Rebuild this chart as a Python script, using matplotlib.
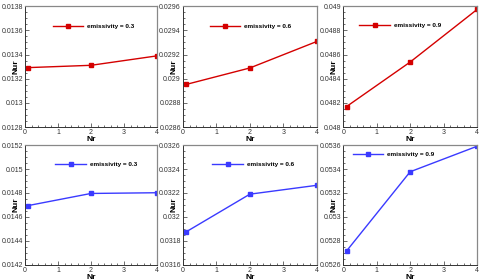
import matplotlib
matplotlib.use('Agg')
import matplotlib.pyplot as plt
from matplotlib.ticker import MultipleLocator, AutoMinorLocator

plt.rcParams['font.family'] = ['Liberation Sans', 'DejaVu Sans']

# radiation parameter values (x axis)
nr = [0.1, 2, 4]

# mean Nusselt (radiative) for each emissivity, top row = red, bottom row = blue
top_eps = ['0.3', '0.6', '0.9']
top_nur = [
    [0.013292, 0.013311, 0.013389],
    [0.028953, 0.029089, 0.029308],
    [0.048170, 0.048538, 0.048973],
]
top_ylim = [(0.0128, 0.0138), (0.0286, 0.0296), (0.0480, 0.0490)]

bot_eps = ['0.3', '0.6', '0.9']
bot_nur = [
    [0.014695, 0.014796, 0.014802],
    [0.031876, 0.032190, 0.032264],
    [0.052716, 0.053377, 0.053590],
]
bot_ylim = [(0.0142, 0.0152), (0.0316, 0.0326), (0.0526, 0.0536)]

red = '#d40000'
blue = '#3a3aff'

fig = plt.figure(figsize=(4.8, 2.8), dpi=100)

lefts = [0.052, 0.381, 0.715]
widths = [0.275, 0.279, 0.279]
top_legpos = [(0.21, 0.83), (0.20, 0.83), (0.12, 0.84)]
bot_legpos = [(0.23, 0.84), (0.22, 0.84), (0.07, 0.92)]


def panel(rect, y, ylim, eps, color, legpos):
    ax = fig.add_axes(rect)
    ax.plot(nr, y, color=color, lw=1.0, marker='s', ms=2.6,
            label='emissivity = ' + eps)
    ax.set_xlim(0, 4)
    ax.set_ylim(*ylim)
    ax.xaxis.set_major_locator(MultipleLocator(1))
    ax.xaxis.set_minor_locator(AutoMinorLocator(5))
    ax.yaxis.set_major_locator(MultipleLocator(0.0002))
    ax.yaxis.set_minor_locator(AutoMinorLocator(4))
    ax.yaxis.set_major_formatter(plt.FuncFormatter(lambda v, p: ('%.4f' % v).rstrip('0').rstrip('.')))
    ax.tick_params(which='both', direction='in', labelsize=5, colors='#333333',
                   pad=1.5, width=0.5)
    ax.tick_params(which='major', length=3)
    ax.tick_params(which='minor', length=1.5)
    for s in ['left', 'bottom']:
        ax.spines[s].set_color('#333333')
        ax.spines[s].set_linewidth(0.7)
    for s in ['top', 'right']:
        ax.spines[s].set_color('#888888')
        ax.spines[s].set_linewidth(0.9)
    ax.set_xlabel('Nr', fontsize=6, fontweight='bold', labelpad=0)
    ax.set_ylabel('Nur', fontsize=6, fontweight='bold')
    ax.yaxis.set_label_coords(-0.04, 0.5)
    ax.legend(loc='center left', bbox_to_anchor=legpos, frameon=False,
              handlelength=4.8, handletextpad=0.6, borderpad=0,
              borderaxespad=0, prop={'weight': 'bold', 'size': 4.6})
    return ax


for i in range(3):
    panel([lefts[i], 0.546, widths[i], 0.432], top_nur[i], top_ylim[i],
          top_eps[i], red, top_legpos[i])
    panel([lefts[i], 0.054, widths[i], 0.428], bot_nur[i], bot_ylim[i],
          bot_eps[i], blue, bot_legpos[i])

fig.savefig('out.png', dpi=100)
